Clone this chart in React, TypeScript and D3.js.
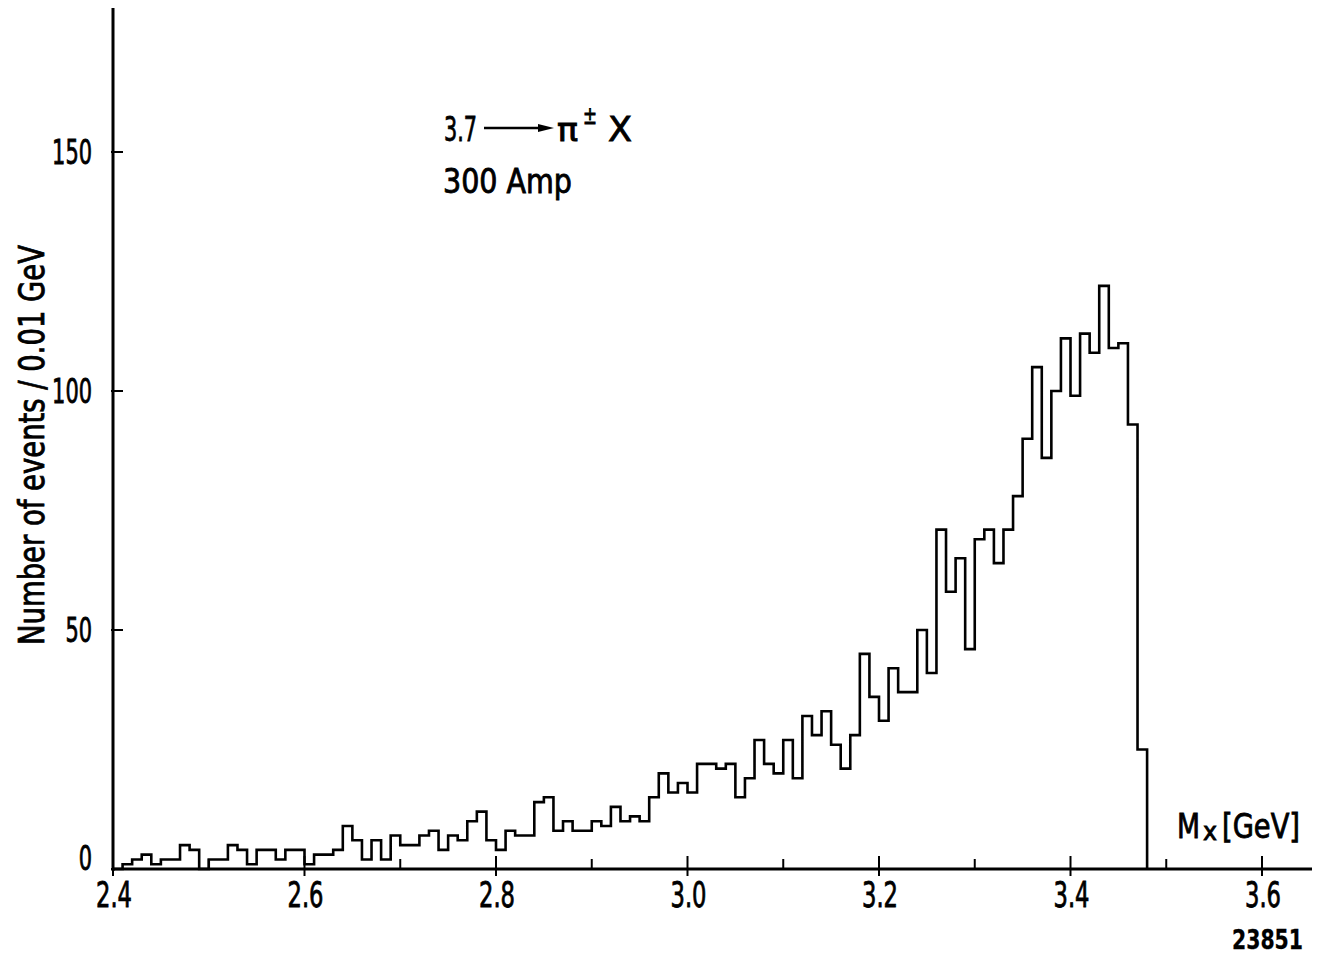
import React from "react";
import * as d3 from "d3";

const binStart = 2.4;
const binWidth = 0.01;
const counts = [
  0, 1, 2, 3, 1, 2, 2, 5, 4, 0,
  2, 2, 5, 4, 1, 4, 4, 2, 4, 4,
  1, 3, 3, 4, 9, 6, 2, 6, 2, 7,
  5, 5, 7, 8, 4, 7, 6, 10, 12, 6,
  4, 8, 7, 7, 14, 15, 8, 10, 8, 8,
  10, 9, 13, 10, 11, 10, 15, 20, 16, 18,
  16, 22, 22, 21, 22, 15, 19, 27, 22, 20,
  27, 19, 32, 28, 33, 26, 21, 28, 45, 36,
  31, 42, 37, 37, 50, 41, 71, 58, 65, 46,
  69, 71, 64, 71, 78, 90, 105, 86, 100, 111,
  99, 112, 108, 122, 109, 110, 93, 25,
];
const xTicks = [2.4, 2.5, 2.6, 2.7, 2.8, 2.9, 3.0, 3.1, 3.2, 3.3, 3.4, 3.5, 3.6];
const xLabels = ["2.4", "2.6", "2.8", "3.0", "3.2", "3.4", "3.6"];
const yTicks = [0, 50, 100, 150];
const yTitle = "Number of events  / 0.01 GeV";

const FONT = "'DejaVu Sans Condensed', 'DejaVu Sans', sans-serif";
const T = { fontFamily: FONT, stroke: "#000", strokeWidth: 0.8, fill: "#000" } as const;

export default function App() {
  const x = d3.scaleLinear().domain([2.4, 3.6]).range([113, 1262]);
  const y = d3.scaleLinear().domain([0, 150]).range([869, 152]);

  const pts: [number, number][] = counts.map((c, i) => [x(binStart + i * binWidth), y(c)]);
  const end = binStart + counts.length * binWidth;
  pts.push([x(end), y(counts[counts.length - 1])]);
  const line = d3.line().curve(d3.curveStepAfter);
  const d = (line(pts) || "") + `L${x(end)},${y(0)}`;

  const yTop = y.invert(8);
  const xRight = x.invert(1312);

  return (
    <svg
      width={1323}
      height={962}
      style={{ position: "absolute", left: 0, top: 0, background: "#fff", display: "block" }}
    >
      <rect x={0} y={0} width={1323} height={962} fill="#fff" />
      {/* axes */}
      <line x1={x(2.4)} x2={x(2.4)} y1={y(yTop)} y2={y(0) + 2} stroke="#000" strokeWidth={3} />
      <line x1={x(2.4) - 1} x2={x(xRight)} y1={y(0)} y2={y(0)} stroke="#000" strokeWidth={3} />
      {yTicks.map((t) => (
        <line key={"yt" + t} x1={x(2.4) - 2} x2={x(2.4) + 10} y1={y(t)} y2={y(t)} stroke="#000" strokeWidth={2} />
      ))}
      {xTicks.map((t, i) => {
        const major = i % 2 === 0;
        return (
          <line
            key={"xt" + i}
            x1={x(t)}
            x2={x(t)}
            y1={y(0) - (major ? 13 : 10)}
            y2={y(0) + (major ? 7 : 0)}
            stroke="#000"
            strokeWidth={2}
          />
        );
      })}
      {/* histogram */}
      <path d={d} fill="none" stroke="#000" strokeWidth={2.6} strokeLinejoin="miter" />
      {/* x tick labels */}
      {xLabels.map((l) => (
        <text
          key={"xl" + l}
          x={x(+l) + 1}
          y={907}
          textAnchor="middle"
          {...T}
          fontSize={35}
          textLength={36}
          lengthAdjust="spacingAndGlyphs"
        >
          {l}
        </text>
      ))}
      {/* y tick labels */}
      {yTicks.map((t) => {
        const s = String(t);
        return (
          <text
            key={"yl" + t}
            x={92}
            y={t === 0 ? 870 : y(t) + 12}
            textAnchor="end"
            {...T}
            fontSize={34}
            textLength={s.length * 13.3}
            lengthAdjust="spacingAndGlyphs"
          >
            {s}
          </text>
        );
      })}
      {/* y title */}
      <text
        transform={`translate(44,445) rotate(-90)`}
        textAnchor="middle"
        {...T}
        fontSize={35}
        textLength={400}
        lengthAdjust="spacingAndGlyphs"
      >
        {yTitle}
      </text>
      {/* annotation */}
      <text x={444} y={141} {...T} fontSize={34} textLength={33} lengthAdjust="spacingAndGlyphs">
        3.7
      </text>
      <line x1={484} x2={545} y1={128} y2={128} stroke="#000" strokeWidth={2.5} />
      <path d="M538,124 L554,128 L538,132 Z" fill="#000" />
      <text x={557} y={141} {...T} fontSize={32} textLength={21} lengthAdjust="spacingAndGlyphs">
        π
      </text>
      <text x={583} y={124} {...T} fontSize={24} textLength={14} lengthAdjust="spacingAndGlyphs">
        ±
      </text>
      <text x={608} y={141} {...T} fontSize={34} textLength={24} lengthAdjust="spacingAndGlyphs">
        X
      </text>
      <text x={443} y={193} {...T} fontSize={33} textLength={129} lengthAdjust="spacingAndGlyphs">
        300 Amp
      </text>
      {/* x axis title */}
      <text x={1177} y={838} {...T} fontSize={33} textLength={23} lengthAdjust="spacingAndGlyphs">
        M
      </text>
      <text x={1203} y={840} {...T} fontSize={24} textLength={14} lengthAdjust="spacingAndGlyphs">
        x
      </text>
      <text x={1222} y={838} {...T} fontSize={33} textLength={78} lengthAdjust="spacingAndGlyphs">
        [GeV]
      </text>
      <text
        x={1232}
        y={949}
        {...T}
        fontSize={27}
        fontWeight="bold"
        strokeWidth={0.3}
        textLength={71}
        lengthAdjust="spacingAndGlyphs"
      >
        23851
      </text>
    </svg>
  );
}
